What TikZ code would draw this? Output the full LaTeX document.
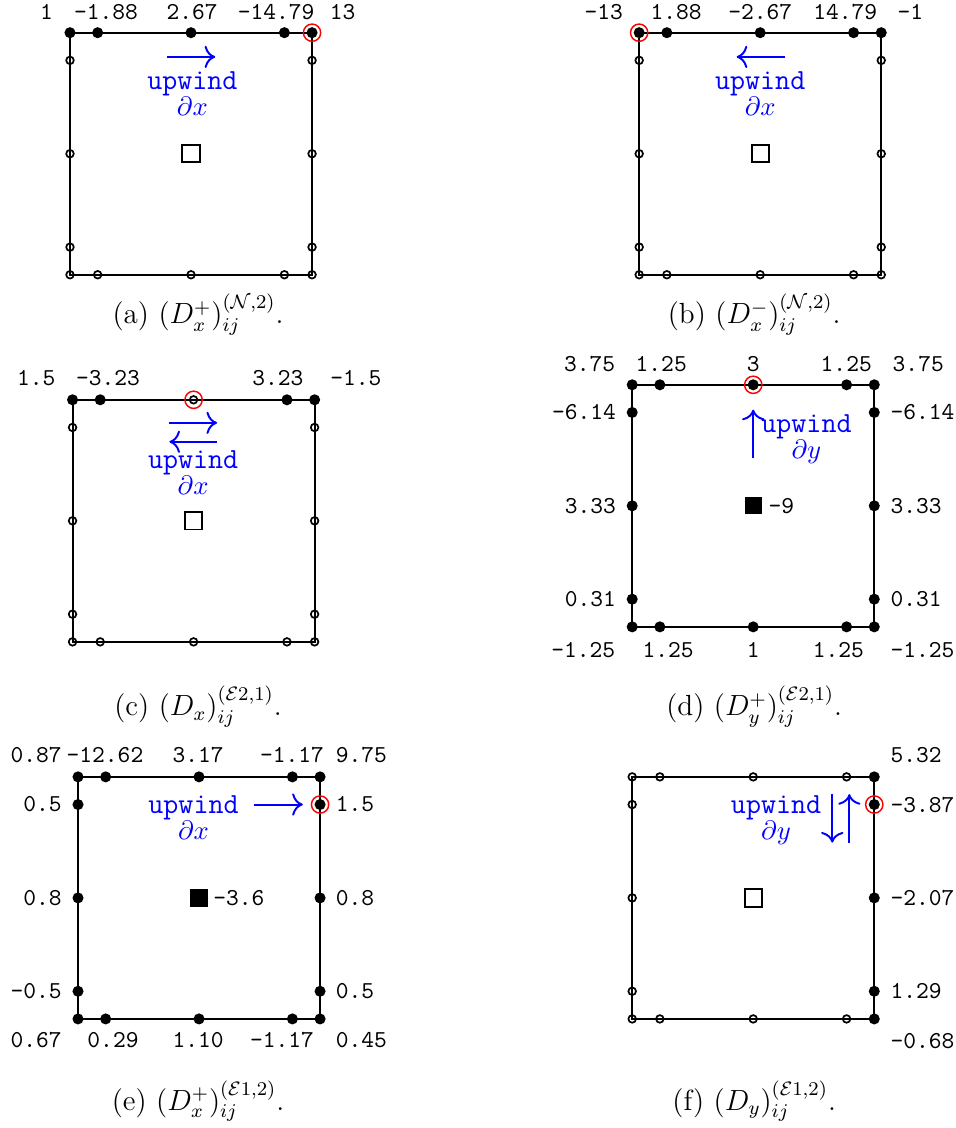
\documentclass[tikz,border=0pt]{standalone}
\usepackage{amsmath}
\usepackage{amssymb}
\usepackage{tikz}
\usetikzlibrary{arrows.meta}

\tikzset{
  frame/.style={black, thick},
  dotf/.style={fill=black},
  doto/.style={draw=black, line width=0.7pt},
  redring/.style={draw=red, line width=0.6pt},
  cell/.style={draw=black, thick},
  windline/.style={blue, thick},
  wind/.style={font=\fontsize{12}{10.7}\selectfont\ttfamily, text=blue, align=center, inner sep=0pt},
  num/.style={font=\ttfamily, inner sep=0pt},
  subcap/.style={font=\large, anchor=base}
}
\newcommand{\dpart}[1]{\fontsize{10.5}{10.7}\selectfont$\partial #1$}

\begin{document}
\begin{tikzpicture}[>={To[scale=1.3]}]
    \useasboundingbox (0,0) rectangle (13.81,16.31);

    % 1. N 角点, D_x^+
    \begin{scope}[shift={(1.012,12.337)}]
      \draw[frame] (0,0) rectangle (3.5,3.5);
      \foreach \t in {0,0.4,1.75,3.1,3.5} {
        \fill[dotf] (\t,3.5) circle (0.08);
        \draw[doto] (\t,0) circle (0.055);
      }
      \foreach \t in {0.4,1.75,3.1} {
        \draw[doto] (0,\t) circle (0.055);
        \draw[doto] (3.5,\t) circle (0.055);
      }
      \draw[redring] (3.5,3.5) circle (0.125);
      \draw[cell] (1.625,1.625) rectangle (1.875,1.875);

      \draw[->, windline] (1.40,3.15) -- (2.10,3.15);
      \node[wind] (aw) at (1.77,2.62) {upwind\\\dpart{x}};

      \node[num, anchor=east] (a1) at (-0.24,3.8) {1};
      \node[num] (a2) at (0.52,3.8) {-1.88};
      \node[num] (a3) at (1.765,3.8) {2.67};
      \node[num] (a4) at (2.98,3.8) {-14.79};
      \node[num, anchor=west] (a5) at (3.75,3.8) {13};
    \end{scope}

    % 2. N 角点, D_x^-
    \begin{scope}[shift={(9.242,12.337)}]
      \draw[frame] (0,0) rectangle (3.5,3.5);
      \foreach \t in {0,0.4,1.75,3.1,3.5} {
        \fill[dotf] (\t,3.5) circle (0.08);
        \draw[doto] (\t,0) circle (0.055);
      }
      \foreach \t in {0.4,1.75,3.1} {
        \draw[doto] (0,\t) circle (0.055);
        \draw[doto] (3.5,\t) circle (0.055);
      }
      \draw[redring] (0,3.5) circle (0.125);
      \draw[cell] (1.625,1.625) rectangle (1.875,1.875);

      \draw[->, windline] (2.11,3.15) -- (1.41,3.15);
      \node[wind] (bw) at (1.75,2.62) {upwind\\\dpart{x}};

      \node[num, anchor=east] (b1) at (-0.23,3.8) {-13};
      \node[num] (b2) at (0.535,3.8) {1.88};
      \node[num] (b3) at (1.75,3.8) {-2.67};
      \node[num] (b4) at (2.98,3.8) {14.79};
      \node[num, anchor=west] (b5) at (3.73,3.8) {-1};
    \end{scope}

    % 3. E2 边, D_x
    \begin{scope}[shift={(1.049,7.029)}]
      \draw[frame] (0,0) rectangle (3.5,3.5);
      \foreach \t in {0,0.4,3.1,3.5} {
        \fill[dotf] (\t,3.5) circle (0.08);
      }
      \draw[doto] (1.75,3.5) circle (0.055);
      \foreach \t in {0,0.4,1.75,3.1,3.5} {
        \draw[doto] (\t,0) circle (0.055);
      }
      \foreach \t in {0.4,1.75,3.1} {
        \draw[doto] (0,\t) circle (0.055);
        \draw[doto] (3.5,\t) circle (0.055);
      }
      \draw[redring] (1.75,3.5) circle (0.125);
      \draw[cell] (1.625,1.625) rectangle (1.875,1.875);

      \draw[->, windline] (1.40,3.167) -- (2.09,3.167);
      \draw[->, windline] (2.09,2.893) -- (1.40,2.893);
      \node[wind] (cw) at (1.743,2.45) {upwind\\\dpart{x}};

      \node[num, anchor=east] (c1) at (-0.24,3.81) {1.5};
      \node[num] (c2) at (0.513,3.81) {-3.23};
      \node[num] (c3) at (2.97,3.81) {3.23};
      \node[num, anchor=west] (c4) at (3.72,3.81) {-1.5};
    \end{scope}

    % 4. E2 边, D_y^+
    \begin{scope}[shift={(9.141,7.246)}]
      \draw[frame] (0,0) rectangle (3.5,3.5);
      \foreach \t in {0,0.4,1.75,3.1,3.5} {
        \fill[dotf] (\t,3.5) circle (0.08);
        \fill[dotf] (\t,0) circle (0.08);
      }
      \foreach \t in {0.4,1.75,3.1} {
        \fill[dotf] (0,\t) circle (0.08);
        \fill[dotf] (3.5,\t) circle (0.08);
      }
      \draw[redring] (1.75,3.5) circle (0.125);
      \fill[dotf] (1.625,1.625) rectangle (1.875,1.875);
      \node[num, anchor=west] (dc) at (1.967,1.75) {-9};

      \draw[->, windline] (1.75,2.44) -- (1.75,3.14);
      \node[wind] (dw) at (2.52,2.71) {upwind\\\dpart{y}};

      \node[num, anchor=east] (d1) at (-0.24,3.8) {3.75};
      \node[num] (d2) at (0.42,3.8) {1.25};
      \node[num] (d3) at (1.75,3.8) {3};
      \node[num] (d4) at (3.095,3.8) {1.25};
      \node[num, anchor=west] (d5) at (3.76,3.8) {3.75};

      \node[num, anchor=east] (d6) at (-0.23,3.1) {-6.14};
      \node[num, anchor=east] (d7) at (-0.23,1.75) {3.33};
      \node[num, anchor=east] (d8) at (-0.23,0.4) {0.31};
      \node[num, anchor=west] (d9) at (3.73,3.1) {-6.14};
      \node[num, anchor=west] (d10) at (3.73,1.75) {3.33};
      \node[num, anchor=west] (d11) at (3.73,0.4) {0.31};

      \node[num, anchor=east] (d12) at (-0.24,-0.33) {-1.25};
      \node[num] (d13) at (0.52,-0.33) {1.25};
      \node[num] (d14) at (1.75,-0.33) {1};
      \node[num] (d15) at (2.98,-0.33) {1.25};
      \node[num, anchor=west] (d16) at (3.73,-0.33) {-1.25};
    \end{scope}

    % 5. E1 边, D_x^+
    \begin{scope}[shift={(1.128,1.577)}]
      \draw[frame] (0,0) rectangle (3.5,3.5);
      \foreach \t in {0,0.4,1.75,3.1,3.5} {
        \fill[dotf] (\t,3.5) circle (0.08);
        \fill[dotf] (\t,0) circle (0.08);
      }
      \foreach \t in {0.4,1.75,3.1} {
        \fill[dotf] (0,\t) circle (0.08);
        \fill[dotf] (3.5,\t) circle (0.08);
      }
      \draw[redring] (3.5,3.1) circle (0.125);
      \fill[dotf] (1.625,1.625) rectangle (1.875,1.875);
      \node[num, anchor=west] (ec) at (1.95,1.75) {-3.6};

      \draw[->, windline] (2.55,3.1) -- (3.25,3.1);
      \node[wind] (ew) at (1.67,2.91) {upwind\\\dpart{x}};

      \node[num, anchor=east] (e1) at (-0.23,3.82) {0.87};
      \node[num] (e2) at (0.39,3.82) {-12.62};
      \node[num] (e3) at (1.736,3.82) {3.17};
      \node[num] (e4) at (3.095,3.82) {-1.17};
      \node[num, anchor=west] (e5) at (3.72,3.82) {9.75};

      \node[num, anchor=east] (e6) at (-0.23,3.1) {0.5};
      \node[num, anchor=east] (e7) at (-0.23,1.75) {0.8};
      \node[num, anchor=east] (e8) at (-0.23,0.4) {-0.5};
      \node[num, anchor=west] (e9) at (3.72,3.1) {1.5};
      \node[num, anchor=west] (e10) at (3.72,1.75) {0.8};
      \node[num, anchor=west] (e11) at (3.72,0.4) {0.5};

      \node[num, anchor=east] (e12) at (-0.23,-0.30) {0.67};
      \node[num] (e13) at (0.506,-0.30) {0.29};
      \node[num] (e14) at (1.736,-0.30) {1.10};
      \node[num] (e15) at (2.95,-0.30) {-1.17};
      \node[num, anchor=west] (e16) at (3.72,-0.30) {0.45};
    \end{scope}

    % 6. E1 边, D_y
    \begin{scope}[shift={(9.141,1.577)}]
      \draw[frame] (0,0) rectangle (3.5,3.5);
      \foreach \t in {0,0.4,1.75,3.1} {
        \draw[doto] (\t,3.5) circle (0.055);
        \draw[doto] (\t,0) circle (0.055);
      }
      \fill[dotf] (3.5,3.5) circle (0.08);
      \fill[dotf] (3.5,0) circle (0.08);
      \foreach \t in {0.4,1.75,3.1} {
        \draw[doto] (0,\t) circle (0.055);
        \fill[dotf] (3.5,\t) circle (0.08);
      }
      \draw[redring] (3.5,3.1) circle (0.125);
      \draw[cell] (1.625,1.625) rectangle (1.875,1.875);

      \draw[->, windline] (2.893,3.25) -- (2.893,2.55);
      \draw[->, windline] (3.14,2.55) -- (3.14,3.25);
      \node[wind] (fw) at (2.08,2.87) {upwind\\\dpart{y}};

      \node[num, anchor=west] (f1) at (3.73,3.82) {5.32};
      \node[num, anchor=west] (f2) at (3.73,3.1) {-3.87};
      \node[num, anchor=west] (f3) at (3.73,1.75) {-2.07};
      \node[num, anchor=west] (f4) at (3.73,0.4) {1.29};
      \node[num, anchor=west] (f5) at (3.73,-0.318) {-0.68};
    \end{scope}

    % 子图标题
    \node[subcap] (capa) at (2.864,11.628) {(a) $(D_x^+)_{ij}^{(\mathcal{N},2)}$.};
    \node[subcap] (capb) at (10.905,11.628) {(b) $(D_x^-)_{ij}^{(\mathcal{N},2)}$.};
    \node[subcap] (capc) at (2.864,5.959) {(c) $(D_x)_{ij}^{(\mathcal{E}2,1)}$.};
    \node[subcap] (capd) at (10.905,5.959) {(d) $(D_y^+)_{ij}^{(\mathcal{E}2,1)}$.};
    \node[subcap] (cape) at (2.864,0.26) {(e) $(D_x^+)_{ij}^{(\mathcal{E}1,2)}$.};
    \node[subcap] (capf) at (10.905,0.26) {(f) $(D_y)_{ij}^{(\mathcal{E}1,2)}$.};

  \end{tikzpicture}
\end{document}
